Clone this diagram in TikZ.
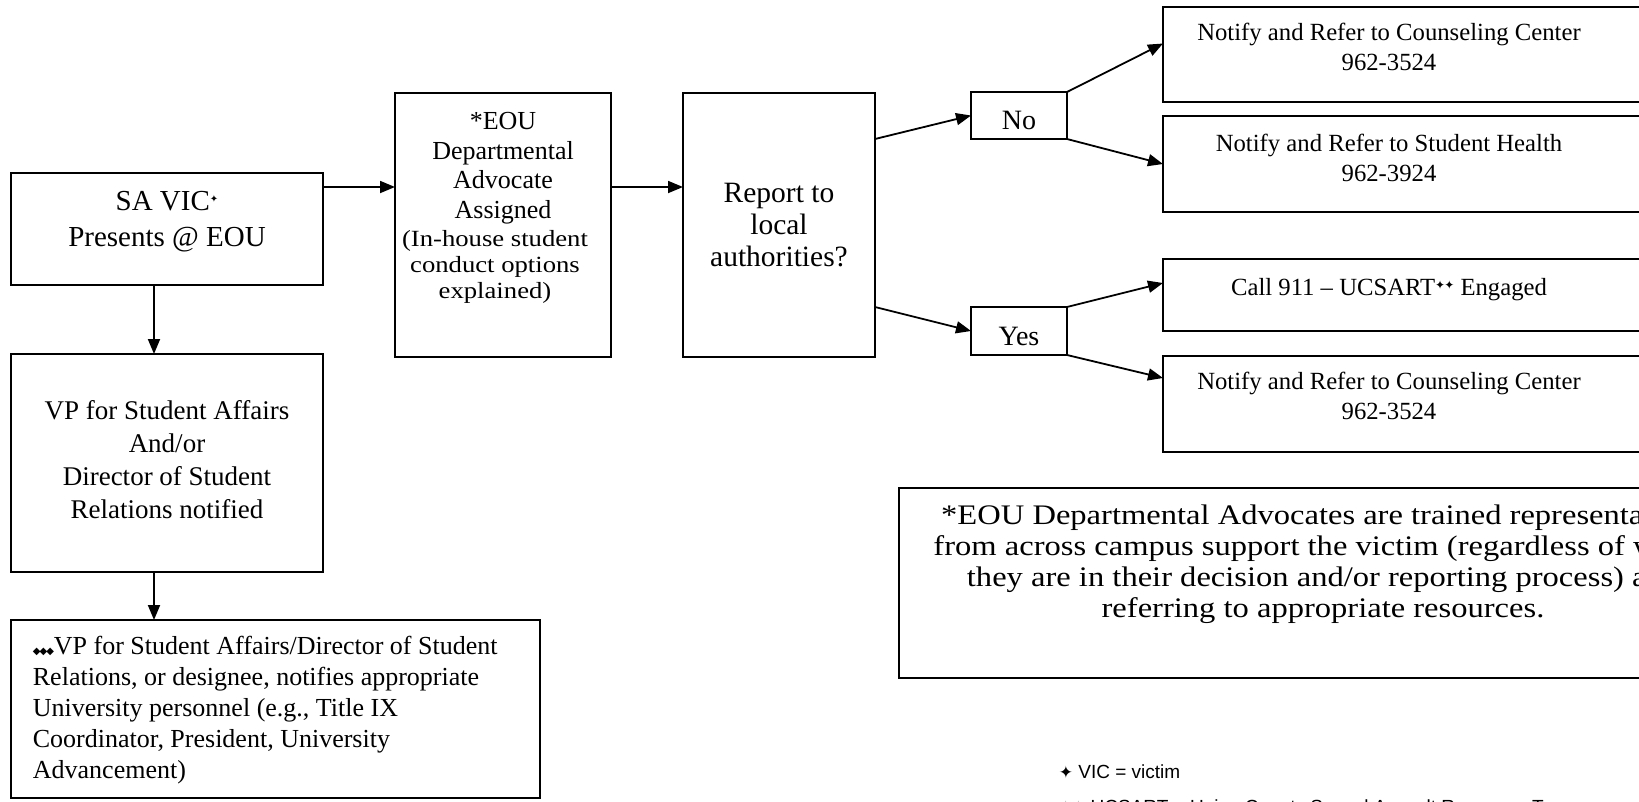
\documentclass[tikz,border=0pt]{standalone}
\usepackage{fontspec}
\setmainfont{Liberation Serif}
\newfontfamily\symfont{DejaVu Sans}
\newfontfamily\notefont{Liberation Sans}
\newfontfamily\widefont[FakeStretch=1.15]{Liberation Serif}
\usetikzlibrary{arrows.meta}
\newcommand{\vicmark}{\raisebox{8pt}{\symfont\fontsize{10}{10}\selectfont ✦}}
\newcommand{\ucsmark}{\raisebox{6pt}{\symfont\fontsize{12}{12}\selectfont ✦\kern-1pt✦}}
\newcommand{\advmark}{{\symfont\fontsize{10}{10}\selectfont ◆\kern-1pt◆\kern-1pt◆}}
\begin{document}
\begin{tikzpicture}[x=1pt, y=-1pt, line width=1.8pt,
  box/.style={draw, anchor=north west, inner sep=0pt, outer sep=0pt},
  tag/.style={box, minimum width=96pt, text height=28pt, text depth=0pt, font=\fontsize{28}{32}\selectfont},
  txt/.style={inner sep=0pt, align=center, font=\fontsize{27}{33}\selectfont},
  ref/.style={txt, font=\fontsize{24.7}{30}\selectfont, anchor=north},
  arr/.style={-{Triangle[length=15pt, width=12pt]}}]
\useasboundingbox (0,0) rectangle (1639,801);
\node[box, minimum width=312pt, minimum height=112pt] (sa) at (11,173) {};
\node[box, minimum width=312pt, minimum height=218pt] (vp) at (11,354) {};
\node[box, minimum width=529pt, minimum height=178pt] (adv) at (11,620) {};
\node[box, minimum width=216pt, minimum height=264pt] (eou) at (395,93) {};
\node[box, minimum width=192pt, minimum height=264pt, align=center, font=\fontsize{29.5}{32}\selectfont] (rep) at (683,93) {Report to\\local\\authorities?};
\node[tag, minimum height=47pt] (no) at (971,92) {No};
\node[tag, minimum height=48pt] (yes) at (971,307) {Yes};
\node[box, minimum width=540pt, minimum height=95pt] (cc1) at (1163,7) {};
\node[box, minimum width=540pt, minimum height=96pt] (sh) at (1163,116) {};
\node[box, minimum width=540pt, minimum height=72pt] (call) at (1163,259) {};
\node[box, minimum width=540pt, minimum height=96pt] (cc2) at (1163,356) {};
\node[box, minimum width=800pt, minimum height=190pt] (note) at (899,488) {};
\node[txt, font=\fontsize{29}{36}\selectfont, anchor=north] (satxt) at (167,190) {SA VIC\vicmark\\Presents @ EOU};
\node[txt, anchor=north] (vptxt) at (167,400) {VP for Student Affairs\\And/or\\Director of Student\\Relations notified};
\node[txt, font=\fontsize{26}{31}\selectfont, align=left, anchor=north west] (advtxt) at (32,635) {\advmark VP for Student Affairs/Director of Student\\Relations, or designee, notifies appropriate\\University personnel (e.g., Title IX\\Coordinator, President, University\\Advancement)};
\node[txt, font=\fontsize{26}{29.5}\selectfont, anchor=north] (eoutop) at (503,111.5) {*EOU\\Departmental\\Advocate\\Assigned};
\node[txt, font=\widefont\fontsize{23.2}{26}\selectfont, anchor=north] (eoubot) at (495,229) {(In-house student\\conduct options\\explained)};
\node[ref] (cc1txt) at (1389,22) {Notify and Refer to Counseling Center\\962-3524};
\node[ref] (shtxt) at (1389,133) {Notify and Refer to Student Health\\962-3924};
\node[ref] (calltxt) at (1389,277) {Call 911 -- UCSART\ucsmark\ Engaged};
\node[ref] (cc2txt) at (1389,371) {Notify and Refer to Counseling Center\\962-3524};
\node[txt, font=\widefont\fontsize{28.3}{31}\selectfont, anchor=north] (notetxt) at (1323,504) {*EOU Departmental Advocates are trained representatives\\from across campus support the victim (regardless of where\\they are in their decision and/or reporting process) and\\referring to appropriate resources.};
\node[txt, font=\notefont\fontsize{19}{35}\selectfont, align=left, anchor=north west] (foot) at (1058,764) {{\symfont\fontsize{17}{17}\selectfont ✦} VIC = victim\\{\symfont\fontsize{17}{17}\selectfont ✦\kern-2pt✦} UCSART = Union County Sexual Assault Response Team};
\draw[arr] ([yshift=42pt]sa.east) -- ([yshift=42pt]sa.east -| eou.west);
\draw[arr] ([yshift=38pt]eou.east) -- ([yshift=38pt]eou.east -| rep.west);
\draw[arr] ([yshift=86pt]rep.east) -- (no.west);
\draw[arr] ([yshift=-82pt]rep.east) -- (yes.west);
\draw[arr] (no.north east) -- ([yshift=11pt]cc1.west);
\draw[arr] (no.south east) -- (sh.west);
\draw[arr] (yes.north east) -- ([yshift=12pt]call.west);
\draw[arr] (yes.south east) -- ([yshift=26pt]cc2.west);
\draw[arr] ([xshift=-13pt]sa.south) -- ([xshift=-13pt]sa.south |- vp.north);
\draw[arr] ([xshift=-13pt]vp.south) -- ([xshift=-13pt]vp.south |- adv.north);
\end{tikzpicture}
\end{document}
